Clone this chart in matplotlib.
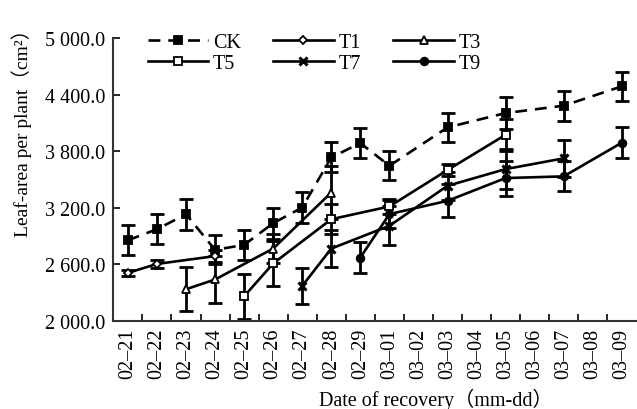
import matplotlib
matplotlib.use("Agg")
import matplotlib.pyplot as plt
from matplotlib.ticker import FuncFormatter, FixedLocator
import numpy as np

plt.rcParams['font.family'] = ['Liberation Serif', 'Noto Sans CJK SC', 'DejaVu Serif']

dates = ['02–21', '02–22', '02–23', '02–24', '02–25', '02–26', '02–27', '02–28', '02–29',
         '03–01', '03–02', '03–03', '03–04', '03–05', '03–06', '03–07', '03–08', '03–09']

N = None
ck = [2856, 2973, 3132, 2754, 2807, 3037, 3203, 3734, 3886, 3645, N, 4052, N, 4204, N, 4282, N, 4487]
ck_err = [160, 160, 165, 155, 160, 165, 160, 160, 160, 155, N, 150, N, 165, N, 160, N, 155]

t1 = [2510, 2605, N, 2688, N, N, N, N, N, N, N, N, N, N, N, N, N, N]
t1_err = [35, 45, N, 60, N, N, N, N, N, N, N, N, N, N, N, N, N, N]

t3 = [N, N, 2337, 2440, N, 2768, N, 3362, N, N, N, N, N, N, N, N, N, N]
t3_err = [N, N, 235, 245, N, 150, N, 280, N, N, N, N, N, N, N, N, N, N]

t5 = [N, N, N, N, 2262, 2610, N, 3079, N, 3214, N, 3600, N, 3974, N, N, N, N]
t5_err = [N, N, N, N, 240, 235, N, 160, N, 80, N, 65, N, 170, N, N, N, N]

t7 = [N, N, N, N, N, N, 2372, 2768, N, 3009, N, 3433, N, 3610, N, 3724, N, N]
t7_err = [N, N, N, N, N, N, 195, 200, N, 205, N, 150, N, 210, N, 195, N, N]

t9 = [N, N, N, N, N, N, N, N, 2673, 3133, N, 3274, N, 3515, N, 3533, N, 3890]
t9_err = [N, N, N, N, N, N, N, N, 163, 150, N, 175, N, 185, N, 160, N, 162]

series = [
    ('CK', ck, ck_err, dict(marker='s', mfc='black', ls=(0, (4.5, 3)))),
    ('T1', t1, t1_err, dict(marker='D', mfc='white', ls='-', ms=4.5)),
    ('T3', t3, t3_err, dict(marker='^', mfc='white', ls='-')),
    ('T5', t5, t5_err, dict(marker='s', mfc='white', ls='-')),
    ('T7', t7, t7_err, dict(marker='x', mfc='black', ls='-', mew=2.2)),
    ('T9', t9, t9_err, dict(marker='o', mfc='black', ls='-')),
]

FS = 14.5

fig = plt.figure(figsize=(6.37, 4.10), dpi=100)
ax = fig.add_axes([0.178, 0.2146, 0.821, 0.6904])

handles = {}
for name, vals, errs, st in series:
    idx = [i for i, v in enumerate(vals) if v is not None]
    y = np.array([vals[i] for i in idx], dtype=float)
    e = np.array([errs[i] for i in idx], dtype=float)
    ms = st.pop('ms', 5.5)
    mew = st.pop('mew', 1.3)
    ax.errorbar(idx, y, yerr=e, fmt='none', ecolor='black', elinewidth=2.0,
                capsize=5, capthick=2.0, zorder=2)
    ln, = ax.plot(idx, y, color='black', lw=1.9, ms=ms, mec='black', mew=mew,
                  zorder=3, **st)
    handles[name] = ln

ax.set_xlim(-0.5, len(dates) - 0.5)
ax.set_ylim(2000, 5000)
ax.set_xticks(range(len(dates)))
ax.set_xticklabels(dates, rotation=90, fontsize=FS)
ax.tick_params(axis='x', which='major', length=0, pad=5)
ax.xaxis.set_minor_locator(FixedLocator(np.arange(0.5, len(dates) - 0.5, 1)))
ax.tick_params(axis='x', which='minor', direction='in', length=5, width=1.2)
ax.set_yticks([2000, 2600, 3200, 3800, 4400, 5000])
ax.yaxis.set_major_formatter(FuncFormatter(lambda v, p: f"{v:,.1f}".replace(',', ' ')))
ax.tick_params(axis='y', direction='in', length=5, width=1.2, labelsize=FS, pad=6)

for s in ['top', 'right']:
    ax.spines[s].set_visible(False)
for s in ['left', 'bottom']:
    ax.spines[s].set_linewidth(1.5)
    ax.spines[s].set_color('#333333')

ax.set_ylabel('Leaf-area per plant（cm²）', fontsize=14)
ax.set_xlabel('Date of recovery（mm-dd）', fontsize=FS)
ax.yaxis.set_label_coords(-0.155, 0.685)
ax.xaxis.set_label_coords(0.617, -0.235)

order = ['CK', 'T5', 'T1', 'T7', 'T3', 'T9']
ax.legend([handles[k] for k in order], order, ncol=3, frameon=False,
          loc='upper left', bbox_to_anchor=(0.05, 1.045), handlelength=3.0,
          columnspacing=1.6, handletextpad=0.25, labelspacing=0.1, fontsize=FS,
          borderaxespad=0)

fig.savefig('out.png', dpi=100)
